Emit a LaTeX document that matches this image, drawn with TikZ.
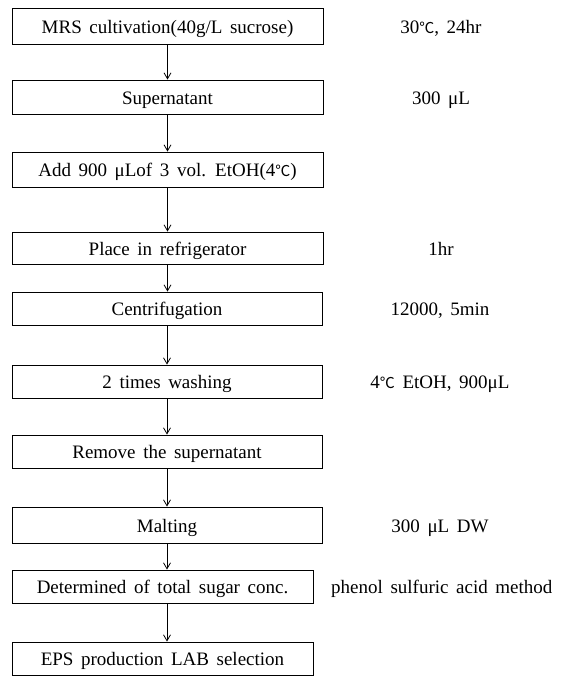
\documentclass[tikz,border=0pt]{standalone}
\usepackage{fontspec}
\setmainfont{Liberation Serif}[WordSpace=1.6]
\newfontfamily\cjk{Noto Sans CJK SC}
\usetikzlibrary{arrows.meta}
\newcommand{\degc}{{\cjk\fontsize{15}{15}\selectfont ℃}}
\begin{document}
\begin{tikzpicture}[x=1pt,y=-1pt,
  box/.style={draw, line width=0.9pt, rectangle, inner sep=0pt, minimum width=311pt, minimum height=34pt, text height=16pt, text depth=2pt, font=\fontsize{19}{19}\selectfont},
  note/.style={inner sep=0pt, text height=16pt, text depth=2pt, font=\fontsize{19}{19}\selectfont},
  arr/.style={draw, line width=0.8pt, -{Straight Barb[length=6pt,width=7pt]}}]
\useasboundingbox (0,0) rectangle (575,686);
\node[box, minimum height=36pt] (b1) at (167.5,26) {MRS cultivation(40g/L sucrose)};
\node[box] (b2) at (167.5,97) {Supernatant};
\node[box, minimum height=35pt] (b3) at (167.5,169.5) {Add 900 μLof 3 vol. EtOH(4\degc)};
\node[box, minimum height=32pt] (b4) at (167.5,248) {Place in refrigerator};
\node[box, minimum width=310pt, minimum height=33pt] (b5) at (167,308.5) {Centrifugation};
\node[box, minimum width=310pt, minimum height=33pt] (b6) at (167,381.5) {2 times washing};
\node[box, minimum width=310pt, minimum height=33pt] (b7) at (167,451.5) {Remove the supernatant};
\node[box, minimum width=310pt, minimum height=36pt] (b8) at (167,525) {Malting};
\node[box, minimum width=301pt, minimum height=33pt] (b9) at (162.5,586.5) {Determined of total sugar conc.};
\node[box, minimum width=301pt, minimum height=33pt] (b10) at (162.5,658.5) {EPS production LAB selection};
\node[note] (n1) at (441,26) {30\degc, 24hr};
\node[note] (n2) at (441,97) {300 μL};
\node[note] (n4) at (441,248) {1hr};
\node[note] (n5) at (440,308.5) {12000, 5min};
\node[note] (n6) at (440,381.5) {4\degc\ EtOH, 900μL};
\node[note] (n8) at (440,525) {300 μL DW};
\node[note, anchor=west] (n9) at (331,586.5) {phenol sulfuric acid method};
\draw[arr] (b1.south) -- (b2.north);
\draw[arr] (b2.south) -- (b3.north);
\draw[arr] (b3.south) -- (b4.north);
\draw[arr] (b4.south) -- (b4.south |- b5.north);
\draw[arr] (b5.south) -- (b6.north);
\draw[arr] (b6.south) -- (b7.north);
\draw[arr] (b7.south) -- (b8.north);
\draw[arr] (b8.south) -- (b8.south |- b9.north);
\draw[arr] (b9.south -| b8.south) -- (b8.south |- b10.north);
\end{tikzpicture}
\end{document}
